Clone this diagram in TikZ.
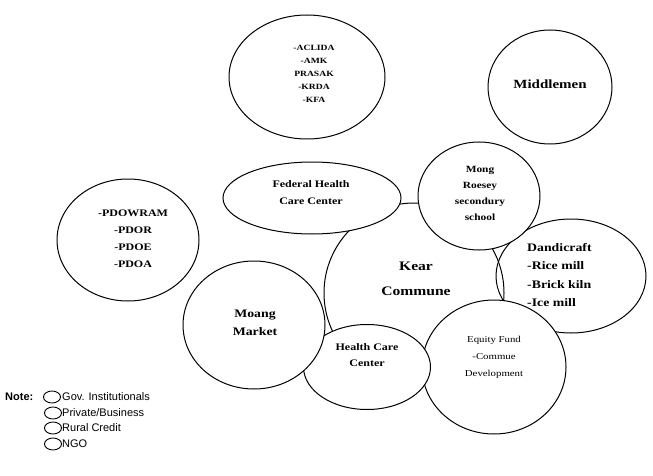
\documentclass[tikz,border=0pt]{standalone}
\usepackage{fontspec}
\setmainfont[FakeStretch=1.2]{Liberation Serif}
\newfontfamily\arialf{Liberation Sans}
\usetikzlibrary{shapes.geometric}
\tikzset{
  oval/.style={draw, ellipse, line width=1pt, inner sep=0pt, fill=white},
  lbl/.style={align=center, inner sep=0pt, font=\bfseries},
  leg/.style={draw, ellipse, line width=0.9pt, minimum width=17pt, minimum height=12pt, inner sep=0pt},
  legtext/.style={anchor=west, inner sep=0pt, font=\arialf\fontsize{11}{13}\selectfont}
}
\begin{document}
\begin{tikzpicture}[x=1pt,y=-1pt]
\useasboundingbox (0,0) rectangle (653,476);
% ellipses (drawn back to front, filled white)
\node[oval, minimum width=180pt, minimum height=180pt] (kear) at (414,293) {};
\node[oval, fill=none, minimum width=150pt, minimum height=114pt] (dand) at (571,276) {};
\node[oval, minimum width=144pt, minimum height=134pt] (equity) at (494,367) {};
\node[oval, minimum width=122pt, minimum height=108pt] (mong) at (479,196) {};
\node[oval, minimum width=178pt, minimum height=72pt] (federal) at (312,198) {};
\node[oval, minimum width=127pt, minimum height=85pt] (health) at (367,367) {};
\node[oval, minimum width=142pt, minimum height=128pt] (moang) at (254,325) {};
\node[oval, minimum width=142pt, minimum height=122pt] (pdowram) at (128,240) {};
\node[oval, minimum width=156pt, minimum height=124pt] (aclida) at (307,77) {};
\node[oval, minimum width=124pt, minimum height=114pt] (middle) at (550,87) {};
% texts
\node[lbl, font=\bfseries\fontsize{8}{13}\selectfont] (aclidaT) at (314,74) {-ACLIDA\\-AMK\\PRASAK\\-KRDA\\-KFA};
\node[lbl, font=\bfseries\fontsize{12.5}{13}\selectfont] (middleT) at (550,84) {Middlemen};
\node[lbl, font=\bfseries\fontsize{10}{17}\selectfont] (pdowramT) at (133,239) {-PDOWRAM\\-PDOR\\-PDOE\\-PDOA};
\node[lbl, font=\bfseries\fontsize{10}{17}\selectfont] (federalT) at (311,193) {Federal Health\\Care Center};
\node[lbl, font=\bfseries\fontsize{9.5}{16}\selectfont] (mongT) at (480,193) {Mong\\Roesey\\secondury\\school};
\node[lbl, font=\bfseries\fontsize{13}{25}\selectfont] (kearT) at (416,279) {Kear\\Commune};
\node[lbl, align=left, font=\bfseries\fontsize{11.5}{18.5}\selectfont, anchor=west] (dandT) at (527,275) {Dandicraft\\-Rice mill\\-Brick kiln\\-Ice mill};
\node[lbl, font=\bfseries\fontsize{11.5}{18}\selectfont] (moangT) at (255,323) {Moang\\Market};
\node[lbl, font=\bfseries\fontsize{10}{16}\selectfont] (healthT) at (367,355) {Health Care\\Center};
\node[lbl, font=\fontsize{9}{17}\selectfont] (equityT) at (494,357) {Equity Fund\\-Commue\\Development};
% legend
\node[inner sep=0pt, anchor=west, font=\arialf\bfseries\fontsize{11}{13}\selectfont] (note) at (5,397) {Note:};
\node[leg] (l1) at (52,397) {};
\node[leg] (l2) at (53,413) {};
\node[leg] (l3) at (53,428) {};
\node[leg] (l4) at (53,444) {};
\node[legtext] (t1) at (62,397) {Gov. Institutionals};
\node[legtext] (t2) at (62,413) {Private/Business};
\node[legtext] (t3) at (62,428) {Rural Credit};
\node[legtext] (t4) at (62,444) {NGO};
\end{tikzpicture}
\end{document}
